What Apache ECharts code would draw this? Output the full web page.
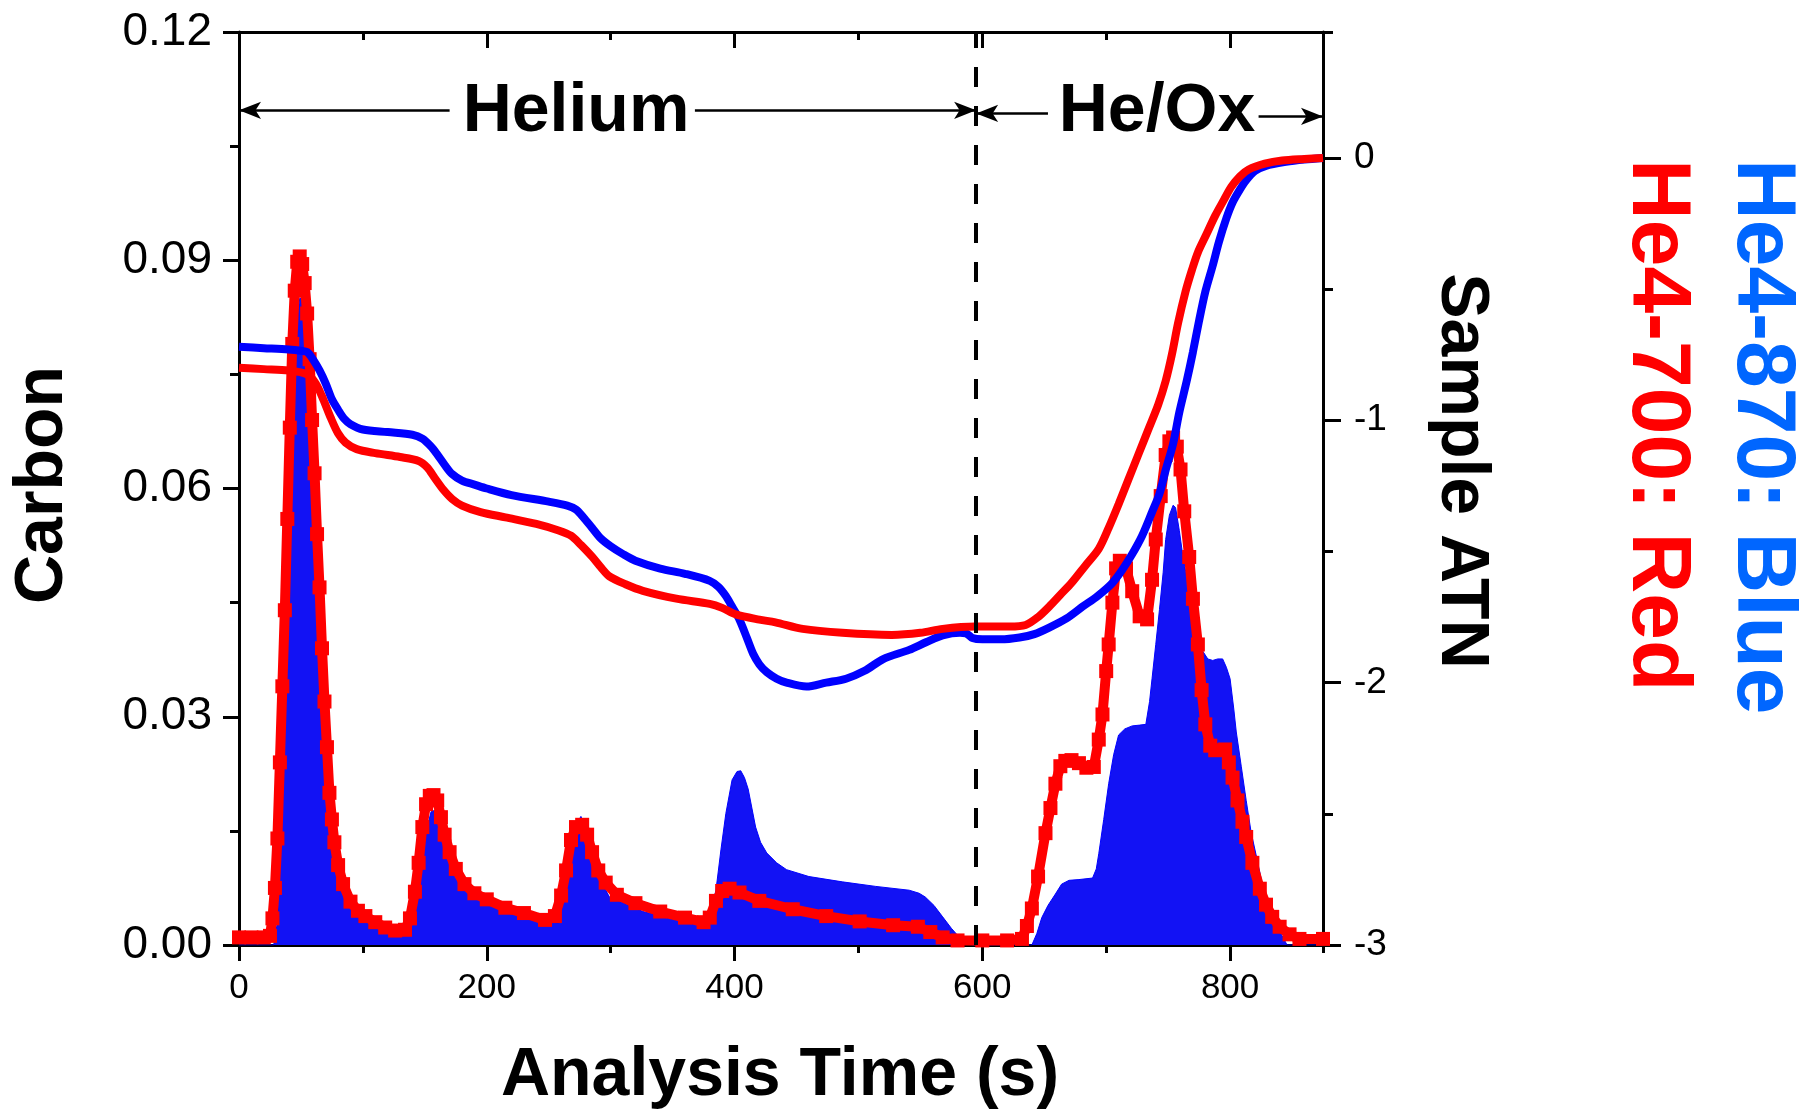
<!DOCTYPE html>
<html>
<head>
<meta charset="utf-8">
<title>Carbon / Sample ATN</title>
<script src="https://cdn.jsdelivr.net/npm/echarts@6/dist/echarts.min.js"></script>
<style>
  html, body { margin: 0; padding: 0; background: #fff; }
  #main { width: 1818px; height: 1113px; }
</style>
</head>
<body>
<div id="main"></div>
<script>
// carbon signal, He4-870 (blue bars) : [time s, carbon]
const carbon870 = [[0,0],[28,0],[31,0.003],[33,0.01],[35,0.018],[37,0.028],[39,0.040],[41,0.053],[43,0.065],[45,0.075],[47,0.082],[49,0.085],[51,0.085],[53,0.082],[55,0.077],[57,0.069],[59,0.062],[61,0.054],[63,0.046],[65,0.039],[67,0.032],[69,0.026],[71,0.021],[73,0.017],[76,0.013],[80,0.0095],[85,0.007],[92,0.0048],[100,0.0036],[110,0.0027],[120,0.0017],[130,0.0014],[136,0.0015],[140,0.003],[144,0.0065],[148,0.0115],[152,0.0155],[155,0.0175],[158,0.0177],[161,0.016],[165,0.0135],[170,0.011],[176,0.0088],[184,0.0072],[195,0.006],[210,0.005],[230,0.0039],[250,0.003],[258,0.0029],[263,0.0065],[267,0.0116],[271,0.0155],[276,0.0169],[281,0.0148],[286,0.0121],[292,0.0085],[299,0.0063],[315,0.0052],[326,0.0044],[353,0.0033],[371,0.0026],[380,0.0040],[385,0.0072],[389,0.0125],[393,0.0173],[398,0.0217],[402,0.0228],[405,0.0229],[408,0.022],[411,0.0205],[414,0.018],[417,0.0155],[421,0.0135],[426,0.0121],[434,0.0108],[442,0.0099],[460,0.009],[487,0.0083],[514,0.0077],[541,0.0072],[549,0.0068],[554,0.0063],[561,0.0052],[568,0.0037],[575,0.0022],[581,0.0011],[589,0.0002],[592,0],[640,0],[644,0.0015],[648,0.0036],[653,0.0052],[659,0.0067],[664,0.008],[670,0.0085],[678,0.0086],[689,0.0088],[692,0.010],[694,0.012],[698,0.0165],[702,0.0212],[706,0.025],[710,0.0276],[715,0.0284],[721,0.0288],[727,0.0289],[732,0.029],[735,0.032],[737,0.035],[740,0.0395],[743,0.0441],[746,0.049],[748,0.0533],[751,0.0565],[754,0.0578],[756,0.0575],[759,0.0545],[762,0.051],[766,0.0475],[770,0.0441],[774,0.041],[778,0.0386],[782,0.0376],[786,0.0374],[790,0.0376],[794,0.0376],[797,0.0365],[800,0.035],[803,0.031],[805,0.028],[809,0.0235],[813,0.019],[817,0.0148],[822,0.0111],[826,0.008],[830,0.0057],[836,0.003],[841,0.0015],[846,0],[875,0]];

// carbon signal, He4-700 (red squares)
const carbon700 = [[0,0.0010],[10,0.0010],[20,0.0010],[25,0.0012],[27,0.0035],[29,0.0075],[31,0.014],[33,0.024],[35,0.034],[37,0.044],[39,0.056],[41,0.068],[43,0.079],[45,0.086],[47,0.0898],[49,0.0905],[51,0.0895],[53,0.087],[55,0.083],[57,0.077],[59,0.069],[61,0.062],[63,0.054],[65,0.047],[67,0.039],[69,0.032],[71,0.026],[73,0.020],[75,0.0165],[77,0.0135],[80,0.0105],[84,0.008],[90,0.0057],[96,0.0045],[102,0.0038],[110,0.003],[118,0.0023],[126,0.0019],[134,0.002],[138,0.0035],[142,0.007],[145,0.0108],[148,0.0155],[151,0.0185],[154,0.0196],[157,0.0197],[160,0.019],[163,0.0168],[166,0.0145],[170,0.0122],[175,0.0100],[182,0.0080],[190,0.0068],[200,0.006],[215,0.0049],[230,0.0042],[247,0.0033],[255,0.0038],[260,0.0065],[264,0.0098],[268,0.0138],[272,0.0155],[277,0.0158],[281,0.0145],[285,0.0122],[290,0.0098],[296,0.0082],[305,0.0066],[320,0.0055],[340,0.0044],[360,0.0036],[375,0.003],[380,0.0036],[385,0.0058],[390,0.0071],[396,0.0074],[404,0.0069],[420,0.0058],[447,0.0047],[474,0.0038],[501,0.0031],[528,0.0026],[548,0.0024],[558,0.0017],[568,0.0010],[580,0.0006],[600,0.0006],[620,0.0006],[632,0.0008],[636,0.0025],[640,0.0048],[645,0.009],[651,0.0147],[655,0.018],[659,0.0212],[663,0.0235],[667,0.0242],[672,0.0243],[678,0.0239],[684,0.0233],[690,0.0234],[694,0.027],[697,0.0303],[700,0.036],[702,0.0395],[705,0.045],[708,0.0495],[711,0.0505],[716,0.0495],[721,0.0465],[727,0.0432],[733,0.0428],[737,0.048],[740,0.0533],[744,0.059],[748,0.0644],[751,0.0662],[754,0.0667],[757,0.0655],[760,0.0625],[763,0.057],[767,0.051],[770,0.0455],[774,0.0395],[777,0.0335],[780,0.029],[784,0.0262],[788,0.0256],[796,0.0257],[799,0.024],[802,0.022],[806,0.019],[810,0.0162],[813,0.0142],[818,0.0108],[824,0.0074],[829,0.0053],[834,0.0037],[840,0.0024],[848,0.0014],[856,0.0008],[875,0.0008]];

// sample ATN (right axis)
const atn870 = [[0,-0.72],[20,-0.725],[40,-0.73],[50,-0.735],[55,-0.74],[60,-0.77],[65,-0.81],[70,-0.86],[75,-0.92],[80,-0.96],[85,-0.995],[90,-1.015],[100,-1.035],[120,-1.045],[140,-1.055],[148,-1.07],[155,-1.10],[160,-1.13],[166,-1.17],[172,-1.205],[180,-1.23],[190,-1.245],[200,-1.26],[220,-1.285],[250,-1.31],[265,-1.325],[272,-1.34],[278,-1.37],[285,-1.41],[292,-1.45],[300,-1.48],[310,-1.51],[320,-1.535],[340,-1.565],[360,-1.585],[380,-1.612],[387,-1.635],[393,-1.67],[398,-1.71],[404,-1.76],[410,-1.83],[415,-1.89],[420,-1.93],[426,-1.96],[434,-1.985],[442,-2.0],[458,-2.015],[474,-2.0],[490,-1.985],[505,-1.955],[520,-1.91],[541,-1.875],[555,-1.845],[568,-1.82],[582,-1.81],[587,-1.812],[592,-1.83],[600,-1.835],[615,-1.835],[630,-1.828],[642,-1.815],[654,-1.79],[668,-1.755],[681,-1.71],[693,-1.67],[705,-1.62],[713,-1.57],[721,-1.51],[729,-1.44],[737,-1.35],[743,-1.28],[748,-1.19],[754,-1.09],[759,-0.97],[765,-0.85],[770,-0.74],[775,-0.62],[780,-0.51],[786,-0.41],[791,-0.32],[797,-0.23],[802,-0.17],[808,-0.12],[813,-0.085],[820,-0.05],[829,-0.03],[845,-0.015],[860,-0.006],[875,0]];

const atn700 = [[0,-0.80],[20,-0.805],[40,-0.81],[55,-0.825],[62,-0.86],[68,-0.92],[74,-0.99],[80,-1.05],[86,-1.085],[95,-1.11],[110,-1.125],[130,-1.14],[145,-1.155],[152,-1.18],[158,-1.22],[165,-1.265],[172,-1.30],[180,-1.325],[195,-1.35],[215,-1.37],[240,-1.395],[258,-1.42],[268,-1.44],[276,-1.475],[285,-1.52],[292,-1.56],[299,-1.595],[312,-1.625],[326,-1.65],[353,-1.68],[380,-1.70],[390,-1.715],[401,-1.74],[420,-1.76],[433,-1.77],[455,-1.795],[487,-1.81],[527,-1.818],[550,-1.81],[568,-1.795],[594,-1.786],[622,-1.786],[635,-1.78],[645,-1.75],[654,-1.71],[663,-1.665],[672,-1.62],[683,-1.555],[694,-1.49],[702,-1.41],[710,-1.32],[718,-1.225],[726,-1.13],[734,-1.035],[742,-0.94],[748,-0.85],[753,-0.75],[758,-0.63],[764,-0.51],[769,-0.43],[774,-0.36],[781,-0.29],[788,-0.22],[795,-0.16],[801,-0.11],[808,-0.07],[815,-0.044],[828,-0.022],[842,-0.01],[860,-0.004],[875,0]];

// phase change and annotation arrows
const switchTime = 595;
const arrowY = [0.1097, 0.1093, 0.1089];

const FONT = 'Liberation Sans, Arial, sans-serif';
const chart = echarts.init(document.getElementById('main'));

const axisLine = { show: true, onZero: false, lineStyle: { color: '#000', width: 3 } };
const noLine = { show: false, onZero: false };
const noSplit = { show: false };

const option = {
  animation: false,
  backgroundColor: '#fff',
  grid: { left: 239, right: 495, top: 32, bottom: 168 },
  xAxis: [
    { // bottom, labelled
      type: 'value', position: 'bottom', min: 0, max: 875, interval: 200,
      axisLine: axisLine,
      axisTick: { show: true, length: 16, lineStyle: { width: 3, color: '#000' } },
      axisLabel: { fontSize: 35, color: '#000', fontFamily: FONT, margin: 26, showMaxLabel: false },
      splitLine: noSplit
    },
    { // bottom minor ticks
      type: 'value', position: 'bottom', min: 0, max: 875, interval: 100,
      axisLine: noLine,
      axisTick: { show: true, length: 8, lineStyle: { width: 3, color: '#000' } },
      axisLabel: { show: false }, splitLine: noSplit
    },
    { // top frame
      type: 'value', position: 'top', min: 0, max: 875, interval: 200,
      axisLine: axisLine,
      axisTick: { show: true, inside: true, length: 16, lineStyle: { width: 3, color: '#000' } },
      axisLabel: { show: false }, splitLine: noSplit
    },
    {
      type: 'value', position: 'top', min: 0, max: 875, interval: 100,
      axisLine: noLine,
      axisTick: { show: true, inside: true, length: 8, lineStyle: { width: 3, color: '#000' } },
      axisLabel: { show: false }, splitLine: noSplit
    }
  ],
  yAxis: [
    { // Carbon
      type: 'value', position: 'left', min: 0, max: 0.12, interval: 0.03,
      axisLine: axisLine,
      axisTick: { show: true, length: 16, lineStyle: { width: 3, color: '#000' } },
      minorTick: { show: true, splitNumber: 2, length: 9, lineStyle: { width: 3, color: '#000' } },
      axisLabel: { fontSize: 46, color: '#000', fontFamily: FONT, margin: 27,
        formatter: function (v) { return v.toFixed(2); } },
      splitLine: noSplit, minorSplitLine: noSplit
    },
    { // Sample ATN
      type: 'value', position: 'right', min: -3, max: 0.48, interval: 1,
      axisLine: axisLine,
      axisTick: { show: true, length: 18, lineStyle: { width: 3, color: '#000' } },
      axisLabel: { fontSize: 37, color: '#000', fontFamily: FONT, margin: 31, showMaxLabel: false,
        formatter: function (v) { return Number.isInteger(v) ? String(v) : ''; } },
      splitLine: noSplit
    },
    {
      type: 'value', position: 'right', min: -3, max: 0.48, interval: 0.5,
      axisLine: noLine,
      axisTick: { show: true, length: 10, lineStyle: { width: 3, color: '#000' } },
      axisLabel: { show: false }, splitLine: noSplit
    }
  ],
  series: [
    {
      name: 'He4-870 carbon', type: 'line', xAxisIndex: 0, yAxisIndex: 0,
      data: carbon870, showSymbol: false, silent: true,
      lineStyle: { color: '#0000ff', width: 1 },
      areaStyle: { color: '#1212f4', opacity: 1 },
      markLine: {
        silent: true, animation: false,
        label: { show: false },
        symbol: ['none', 'none'],
        data: [
          [{ coord: [switchTime, 0], symbol: 'none', lineStyle: { type: [20, 19], width: 4, color: '#000' } },
           { coord: [switchTime, 0.12], symbol: 'none' }],
          [{ coord: [0, arrowY[0]], symbol: 'arrow', symbolSize: [13, 22], lineStyle: { width: 2.5, color: '#000', type: 'solid' } },
           { coord: [170, arrowY[0]], symbol: 'none' }],
          [{ coord: [368, arrowY[0]], symbol: 'none', lineStyle: { width: 2.5, color: '#000', type: 'solid' } },
           { coord: [switchTime, arrowY[0]], symbol: 'arrow', symbolSize: [13, 22] }],
          [{ coord: [switchTime, arrowY[1]], symbol: 'arrow', symbolSize: [13, 22], lineStyle: { width: 2.5, color: '#000', type: 'solid' } },
           { coord: [653, arrowY[1]], symbol: 'none' }],
          [{ coord: [823, arrowY[2]], symbol: 'none', lineStyle: { width: 2.5, color: '#000', type: 'solid' } },
           { coord: [875, arrowY[2]], symbol: 'arrow', symbolSize: [13, 22] }]
        ]
      },
      z: 1
    },
    {
      name: 'He4-700 carbon', type: 'line', xAxisIndex: 0, yAxisIndex: 0,
      data: carbon700, symbol: 'rect', symbolSize: 14, showSymbol: true, showAllSymbol: true,
      silent: true,
      itemStyle: { color: '#ff0000' },
      lineStyle: { color: '#ff0000', width: 10 },
      z: 2
    },
    {
      name: 'He4-870 ATN', type: 'line', xAxisIndex: 0, yAxisIndex: 1,
      data: atn870, showSymbol: false, smooth: 0.3, silent: true,
      lineStyle: { color: '#0000ff', width: 8 },
      z: 3
    },
    {
      name: 'He4-700 ATN', type: 'line', xAxisIndex: 0, yAxisIndex: 1,
      data: atn700, showSymbol: false, smooth: 0.3, silent: true,
      lineStyle: { color: '#ff0000', width: 8 },
      z: 3
    }
  ],
  graphic: [
    { type: 'text', x: 576, y: 112, z: 10,
      style: { text: 'Helium', font: 'bold 68px ' + FONT, fill: '#000', align: 'center', verticalAlign: 'middle' } },
    { type: 'text', x: 1157, y: 112, z: 10,
      style: { text: 'He/Ox', font: 'bold 68px ' + FONT, fill: '#000', align: 'center', verticalAlign: 'middle' } },
    { type: 'text', x: 780, y: 1076,
      style: { text: 'Analysis Time (s)', font: 'bold 68px ' + FONT, fill: '#000', align: 'center', verticalAlign: 'middle' } },
    { type: 'text', x: 43, y: 485, rotation: Math.PI / 2,
      style: { text: 'Carbon', font: 'bold 68px ' + FONT, fill: '#000', align: 'center', verticalAlign: 'middle' } },
    { type: 'text', x: 1461, y: 471, rotation: -Math.PI / 2,
      style: { text: 'Sample ATN', font: 'bold 68px ' + FONT, fill: '#000', align: 'center', verticalAlign: 'middle' } },
    { type: 'text', x: 1656, y: 159, rotation: -Math.PI / 2,
      style: { text: 'He4-700: Red', font: 'bold 84px ' + FONT, fill: '#ff0000', align: 'left', verticalAlign: 'middle' } },
    { type: 'text', x: 1761, y: 159, rotation: -Math.PI / 2,
      style: { text: 'He4-870: Blue', font: 'bold 84px ' + FONT, fill: '#0066ff', align: 'left', verticalAlign: 'middle' } }
  ]
};

chart.setOption(option);
</script>
</body>
</html>
